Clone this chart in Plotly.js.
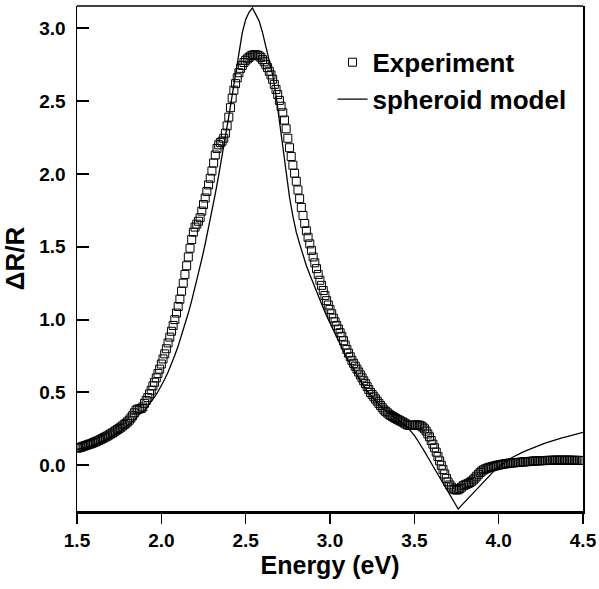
<!DOCTYPE html>
<html>
<head>
<meta charset="utf-8">
<script src="https://cdn.plot.ly/plotly-3.0.1.min.js"></script>
<style>html,body{margin:0;padding:0;background:#fff;}#chart{width:599px;height:589px;}</style>
</head>
<body>
<div id="chart"></div>
<script>
// Experiment: energies 1.50 .. 4.50 eV, step 0.01
const expStart = 1.50;
const expStep = 0.01;
const expValues = [
  0.117, 0.12, 0.123, 0.127, 0.131, 0.135, 0.139, 0.143, 0.147, 0.151,
  0.156, 0.161, 0.166, 0.171, 0.177, 0.183, 0.189, 0.195, 0.201, 0.208,
  0.215, 0.222, 0.229, 0.237, 0.245, 0.253, 0.261, 0.27, 0.279, 0.288,
  0.298, 0.31, 0.325, 0.34, 0.36, 0.378, 0.385, 0.387, 0.39, 0.40,
  0.425, 0.445, 0.465, 0.49, 0.515, 0.545, 0.57, 0.6, 0.63, 0.66,
  0.695, 0.73, 0.765, 0.8, 0.84, 0.88, 0.92, 0.96, 1.0, 1.045,
  1.09, 1.14, 1.195, 1.25, 1.31, 1.37, 1.43, 1.49, 1.55, 1.60,
  1.635, 1.655, 1.675, 1.70, 1.745, 1.79, 1.835, 1.88, 1.925, 1.97,
  2.02, 2.075, 2.13, 2.175, 2.20, 2.215, 2.225, 2.245, 2.28, 2.33,
  2.39, 2.455, 2.52, 2.575, 2.62, 2.66, 2.695, 2.725, 2.745, 2.765,
  2.78, 2.79, 2.80, 2.81, 2.815, 2.818, 2.818, 2.815, 2.81, 2.80,
  2.785, 2.77, 2.75, 2.73, 2.705, 2.68, 2.65, 2.615, 2.58, 2.545,
  2.505, 2.465, 2.42, 2.37, 2.31, 2.245, 2.18, 2.12, 2.06, 2.005,
  1.95, 1.89, 1.83, 1.77, 1.715, 1.66, 1.61, 1.565, 1.52, 1.475,
  1.43, 1.39, 1.35, 1.31, 1.27, 1.235, 1.2, 1.165, 1.13, 1.10,
  1.07, 1.04, 1.01, 0.985, 0.96, 0.935, 0.91, 0.885, 0.855, 0.825,
  0.795, 0.77, 0.745, 0.72, 0.70, 0.68, 0.66, 0.64, 0.62, 0.60,
  0.58, 0.56, 0.54, 0.52, 0.50, 0.485, 0.47, 0.455, 0.44, 0.425,
  0.41, 0.395, 0.38, 0.37, 0.36, 0.35, 0.342, 0.335, 0.328, 0.321,
  0.315, 0.309, 0.303, 0.297, 0.29, 0.283, 0.277, 0.274, 0.273, 0.274,
  0.276, 0.277, 0.277, 0.275, 0.27, 0.262, 0.25, 0.235, 0.215, 0.195,
  0.17, 0.145, 0.12, 0.09, 0.06, 0.03, 0.0, -0.03, -0.06, -0.09,
  -0.115, -0.135, -0.15, -0.162, -0.168, -0.17, -0.168, -0.16, -0.15, -0.14,
  -0.135, -0.13, -0.125, -0.118, -0.11, -0.10, -0.088, -0.075, -0.062, -0.05,
  -0.04, -0.032, -0.026, -0.021, -0.017, -0.013, -0.01, -0.007, -0.004, -0.001,
  0.002, 0.004, 0.006, 0.008, 0.01, 0.012, 0.014, 0.015, 0.016, 0.017,
  0.018, 0.019, 0.02, 0.021, 0.022, 0.023, 0.024, 0.025, 0.026, 0.027,
  0.028, 0.029, 0.03, 0.03, 0.031, 0.031, 0.032, 0.032, 0.033, 0.033,
  0.034, 0.034, 0.034, 0.035, 0.035, 0.035, 0.035, 0.035, 0.035, 0.035,
  0.035, 0.035, 0.035, 0.034, 0.034, 0.034, 0.034, 0.033, 0.033, 0.033,
  0.033
];

// Spheroid model: energies 1.50 .. 4.50 eV, step 0.02
const modelStart = 1.50;
const modelStep = 0.02;
const modelValues = [
  0.108, 0.113, 0.119, 0.125, 0.132, 0.140, 0.148, 0.157, 0.167, 0.178,
  0.190, 0.204, 0.218, 0.234, 0.251, 0.270, 0.290, 0.312, 0.336, 0.362,
  0.375, 0.405, 0.435, 0.47, 0.505, 0.545, 0.59, 0.64, 0.695, 0.755,
  0.82, 0.89, 0.965, 1.045, 1.13, 1.22, 1.315, 1.415, 1.52, 1.63,
  1.745, 1.865, 1.99, 2.12, 2.255, 2.395, 2.54, 2.69, 2.84, 2.97,
  3.06, 3.11, 3.14, 3.10, 3.05, 2.97, 2.87, 2.78, 2.68, 2.54,
  2.36, 2.18, 2.00, 1.84, 1.71, 1.60, 1.52, 1.44, 1.37, 1.31,
  1.25, 1.19, 1.14, 1.08, 1.025, 0.975, 0.925, 0.875, 0.825, 0.78,
  0.735, 0.695, 0.655, 0.615, 0.58, 0.545, 0.51, 0.48, 0.455, 0.43,
  0.405, 0.385, 0.365, 0.345, 0.33, 0.315, 0.30, 0.28, 0.26, 0.235,
  0.205, 0.17, 0.135, 0.095, 0.055, 0.015, -0.025, -0.065, -0.105, -0.145,
  -0.185, -0.225, -0.265, -0.300, -0.275, -0.25, -0.225, -0.20, -0.175, -0.15,
  -0.125, -0.10, -0.075, -0.052, -0.03, -0.01, 0.008, 0.024, 0.039, 0.053,
  0.066, 0.078, 0.089, 0.099, 0.109, 0.118, 0.127, 0.136, 0.145, 0.153,
  0.161, 0.168, 0.175, 0.182, 0.189, 0.195, 0.201, 0.207, 0.213, 0.219,
  0.226
];

const xTickVals = [1.5, 2.0, 2.5, 3.0, 3.5, 4.0, 4.5];
const yTickVals = [0.0, 0.5, 1.0, 1.5, 2.0, 2.5, 3.0];
const seriesNames = ['Experiment', 'spheroid model'];
const xTitle = 'Energy (eV)';
const yTitle = '\u0394R/R';

const expX = expValues.map((_, i) => +(expStart + i * expStep).toFixed(3));
const modelX = modelValues.map((_, i) => +(modelStart + i * modelStep).toFixed(3));

const FONT = 'Liberation Sans, Arial, Helvetica, sans-serif';

const traces = [
  {
    x: expX, y: expValues, name: seriesNames[0], type: 'scatter', mode: 'markers',
    marker: {symbol: 'square-open', size: 8, color: '#000', line: {width: 1, color: '#000'}},
    cliponaxis: true
  },
  {
    x: modelX, y: modelValues, name: seriesNames[1], type: 'scatter', mode: 'lines',
    line: {color: '#000', width: 1.3},
    cliponaxis: true
  }
];

const layout = {
  width: 599, height: 589,
  margin: {l: 77, r: 16, t: 6, b: 78},
  paper_bgcolor: '#fff', plot_bgcolor: '#fff',
  showlegend: true,
  legend: {
    x: 0.505, y: 0.935, xanchor: 'left', yanchor: 'top',
    bgcolor: 'rgba(0,0,0,0)', borderwidth: 0,
    font: {family: FONT, size: 26, color: '#000', weight: 'bold'},
    tracegroupgap: 0
  },
  xaxis: {
    range: [1.5, 4.5], tickvals: xTickVals, tickformat: '.1f',
    showgrid: false, zeroline: false,
    showline: true, linecolor: '#000', linewidth: 3, mirror: false,
    ticks: 'outside', ticklen: 10, tickwidth: 1.5, tickcolor: '#000',
    tickfont: {family: FONT, size: 19, color: '#000', weight: 'bold'},
    title: {text: xTitle, font: {family: FONT, size: 25, color: '#000', weight: 'bold'}, standoff: 6}
  },
  yaxis: {
    range: [-0.314, 3.153], tickvals: yTickVals, tickformat: '.1f',
    showgrid: false, zeroline: false,
    showline: true, linecolor: '#000', linewidth: 1.5, mirror: true,
    ticks: 'inside', ticklen: 12, tickwidth: 2, tickcolor: '#000',
    ticklabelstandoff: 6,
    tickfont: {family: FONT, size: 19, color: '#000', weight: 'bold'},
    title: {text: yTitle, font: {family: FONT, size: 26, color: '#000', weight: 'bold'}, standoff: 12}
  },
  shapes: [
    {type: 'line', xref: 'paper', yref: 'paper', x0: 0, x1: 1, y0: 1, y1: 1,
     line: {color: '#000', width: 1.5}}
  ]
};

Plotly.newPlot('chart', traces, layout, {displayModeBar: false, staticPlot: true});
</script>
</body>
</html>
